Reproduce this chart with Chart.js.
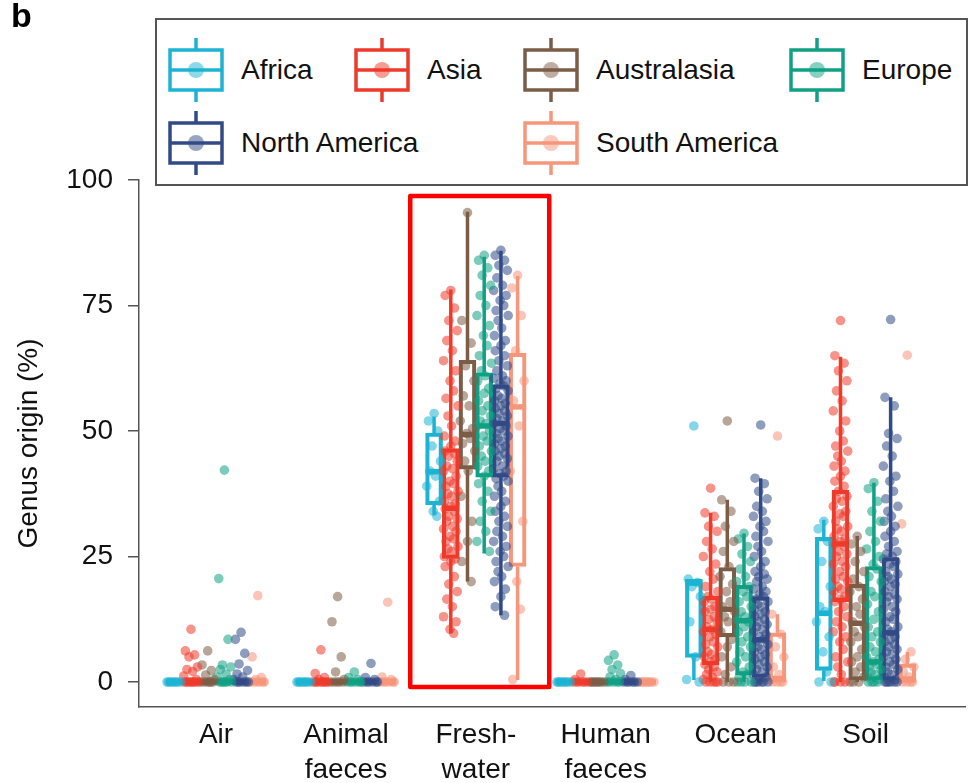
<!DOCTYPE html>
<html>
<head>
<meta charset="utf-8">
<script src="https://cdn.jsdelivr.net/npm/chart.js@4.4.1/dist/chart.umd.min.js"></script>
<style>
html,body{margin:0;padding:0;background:#fff;}
#wrap{position:relative;width:970px;height:783px;overflow:hidden;font-family:'Liberation Sans',Arial,sans-serif;}
#chart{position:absolute;left:0;top:0;}
#tag{position:absolute;left:11px;top:-4px;font-weight:bold;font-size:34px;color:#000;}
#legend{position:absolute;left:155px;top:18px;width:813px;height:168px;border:2px solid #555;box-sizing:border-box;background:#fff;}
.item{position:absolute;display:flex;align-items:center;height:64px;font-size:28px;color:#111;white-space:nowrap;}
.item span{margin-left:17px;}
</style>
</head>
<body>
<div id="wrap">
  <canvas id="chart" width="970" height="783"></canvas>
  <div id="tag">b</div>
  <div id="legend"></div>
</div>
<script>
// ---------- data ----------
const categories = [['Air'], ['Animal', 'faeces'], ['Fresh-', 'water'], ['Human', 'faeces'], ['Ocean'], ['Soil']];
const continents = ['Africa', 'Asia', 'Australasia', 'Europe', 'North America', 'South America'];
const colours = ['#1DB3D3', '#EE3A2B', '#7C5C46', '#10A084', '#324A86', '#F6967A'];
const yTicks = [0, 25, 50, 75, 100];

// box statistics per category: [lower whisker, Q1, median, Q3, upper whisker]
const boxAfrica      = [[0,0,0,0,0],[0,0,0,0,0],[33.3,35.3,41.9,49.6,52.9],[0,0,0,0,0],[0.4,4.9,19.7,20.5,20.5],[0.2,2.3,13.7,28.8,32.3]];
const boxAsia        = [[0,0,0,0,0],[0,0,0,0,0],[9.7,24.6,34.6,46.5,78.2],[0,0,0,0,0],[0,3.4,10.5,17.1,33.7],[0,16.0,27.5,38.2,64.8]];
const boxAustralasia = [[0,0,0,0,0],[0,0,0,0,0],[20.0,42.4,49.3,64.1,93.7],[0,0,0,0,0],[0,9.0,14.5,22.8,36.3],[0,0.4,11.7,19.5,29.1]];
const boxEurope      = [[0,0,0,0,0],[0,0,0,0,0],[25.6,40.8,51.0,61.6,84.7],[0,0,0,0,0],[0,1.4,12.2,19.3,29.6],[0,0.4,4.0,23.0,39.7]];
const boxNorthAm     = [[0,0,0,0,0],[0,0,0,0,0],[13.3,40.8,51.5,59.2,85.9],[0,0,0,0,0],[0,0.9,8.4,17.0,40.6],[0,0.4,9.8,24.8,56.7]];
const boxSouthAm     = [[0,0,0,0,0],[0,0,0,0,0],[0.4,23.0,54.8,65.5,80.9],[0,0,0,0,0],[0,0.5,0.5,9.8,13.5],[0,0.4,0.4,3.6,6.0]];

// individual samples per category (Air, Animal faeces, Freshwater, Human faeces, Ocean, Soil)
const ptsAfrica = [
  [0,0,0,0,0,0,0,0],
  [0,0,0,0,0,0,0,0],
  [53.5,52,50,47,44,42,41,39,36,34,33],
  [0,0,0,0,0,0,0,0],
  [51,20.5,19.8,19,17,12,5,0.5,0],
  [32,30.5,28,24,19,15,14,12,9,6,2,0,0]
];
const ptsAsia = [
  [10.5,6.2,5.4,5,3,2.5,2.1,1.2,0.5,0,0,0,0,0,0,0,0],
  [6.4,1.7,0.9,0.5,0,0,0,0,0,0,0,0],
  [78,77,74.5,72,70,68,66,64,62,60,58,56.5,55,53,51,49,48,47,46,45.5,45,44,43,42.5,42,41,40,39.5,39,38,37.5,37,36,35.5,35,34.5,34,33,32.5,32,31,30.5,30,29,28.5,28,27,26.5,26,25,24.5,24,23,21,19.5,18,16.5,15,13,12,10.5,9.7],
  [1.6,0.5,0,0,0,0,0,0],
  [38.6,33.7,33,31,30,28,26.5,25,23.5,22,20.5,19,18,17,16.5,16,15,14.5,14,13,12.5,12,11,10.5,10,9.5,9,8,7.5,7,6,5.5,5,4.5,4,3.5,3,2.5,2,1.5,1,0.5,0,0,0,0,0],
  [72,65,63.5,62,60,58,56,54,52,50,48,47,46,45,44,43,42,41,40,39,38,37,36.5,36,35,34,33.5,33,32,31,30.5,30,29,28.5,28,27.5,27,26,25.5,25,24,23.5,23,22,21,20.5,20,19,18.5,18,17,16.5,16,15,14,13,12,11,10,9,8,6.5,5,4,3,1.5,0,0,0,0]
];
const ptsAustralasia = [
  [6.2,3.4,2.3,1.4,0.5,0,0,0,0,0,0],
  [17,12,5,2,0.5,0,0,0,0,0],
  [93.5,72,67.5,63,60,57,55,52,50.5,49.5,48.5,47.5,46,44,42,37,32,28,24,20],
  [0,0,0,0,0,0,0,0],
  [52,36.3,34,31,28,26,23,21,19.5,18,16,15,14,13,12,10,8.5,7,5,3,1.5,0,0,0],
  [29,27.5,26,24,22,20.5,19,18,16.5,15,13.5,12,11,10,9,8,6.5,5,4,3,2,1,0,0,0]
];
const ptsEurope = [
  [42.2,20.6,8.5,3.4,3,2.5,1.6,1,0.5,0,0,0,0,0,0],
  [2,0.9,0.5,0,0,0,0,0,0],
  [85,84,82.5,81,79,77,75,73,71,69,67,65,63.5,62,61,60,58.5,57.5,56,55,54,53,52,51.5,51,50,49,48,47,46,45,44,43,42,41,39.5,38,36,34,32,30,28,26],
  [5.4,4.3,3.4,2.5,1.7,1,0.5,0,0,0,0,0],
  [29.6,28.5,27,25.5,24,22.5,21,20,19,18,17,16,15,14,13,12.5,12,11,10,9,8,7,6,5,4,3,2,1.5,1,0,0,0,0],
  [39.7,38.5,36,34,32,30,28,26.5,25,23.5,22.5,21,20,18,17,15.5,14,12.5,11,10,9,8,7,6,5,4.5,4,3.5,3,2.5,2,1.5,1,0.5,0,0,0,0]
];
const ptsNorthAm = [
  [9.9,8.5,5.7,3.6,2.3,1.6,1,0.5,0,0,0,0,0,0],
  [3.7,0.9,0.5,0,0,0,0,0,0],
  [86,85,84,83,82,80.5,79,78,77,76,75,74,73,72,70.5,69,68,67,66,65,64,63,62,61,60.5,60,59.5,59,58.5,58,57,56.5,56,55.5,55,54.5,54,53.5,53,52.5,52,51.5,51,50.5,50,49.5,49,48.5,48,47.5,47,46.5,46,45.5,45,44.5,44,43,42.5,42,41.5,41,40.5,40,39,38,37,36,35,34,33,32,31,30,29,28,27,26,25,24,23,22,21,20,18.5,17,15,13.3],
  [1.3,0.5,0,0,0,0,0,0],
  [51.2,40.6,39.5,38,36.5,35,34,33,32,31,30,29,28,27,26,25,24,23,22,21.5,21,20.5,20,19,18.5,18,17.5,17,16.5,16,15.5,15,14.5,14,13.5,13,12.5,12,11.5,11,10.5,10,9.5,9,8.5,8,7.5,7,6.5,6,5.5,5,4.5,4,3.5,3,2.5,2,1.5,1,0.5,0,0,0,0,0,0],
  [72.2,56.7,55,49.5,48.5,47,45,43,41,40,38,36.5,35,34,33,32,31,30,29,28,27,26,25.5,25,24.5,24,23.5,23,22,21.5,21,20.5,20,19.5,19,18,17.5,17,16.5,16,15,14.5,14,13,12.5,12,11,10.5,10,9.5,9,8.5,8,7.5,7,6.5,6,5.5,5,4.5,4,3.5,3,2.5,2,1.5,1,0.5,0,0,0,0,0,0]
];
const ptsSouthAm = [
  [17.2,5,0.9,0.5,0,0,0,0,0,0],
  [15.9,1,0.5,0,0,0,0,0,0],
  [81,78.5,73,66,60,56,51,42,32,20,14.5,0.5],
  [0,0,0,0,0,0,0,0],
  [49,13.5,9.5,7,5,3,1.5,0.5,0,0,0,0],
  [65.1,31.5,6,4.5,3,2,1,0.5,0,0,0,0]
];

// ---------- build ----------
const boxSets = [boxAfrica, boxAsia, boxAustralasia, boxEurope, boxNorthAm, boxSouthAm];
const ptSets  = [ptsAfrica, ptsAsia, ptsAustralasia, ptsEurope, ptsNorthAm, ptsSouthAm];
const SLOT = 0.1286;          // spacing between boxes within a category (category units)
const JW = 0.062;             // jitter half-width (category units)
const JIT = [0,-0.7,0.45,-0.25,0.8,-0.5,0.2,-0.9,0.65,-0.1,0.35,-0.6,0.9,-0.35,0.1,-0.8,0.55];

function rgba(hex, a){
  const n = parseInt(hex.slice(1),16);
  return `rgba(${(n>>16)&255},${(n>>8)&255},${n&255},${a})`;
}

const datasets = [];
continents.forEach((name,k)=>{
  const off = (k-2.5)*SLOT;
  datasets.push({
    type:'bar', label:name+' box',
    data: boxSets[k].map((s,i)=>({x:i+off, y:[s[1], s[3]]})),
    stats: boxSets[k],
    backgroundColor:'rgba(255,255,255,0)', borderColor:colours[k], borderWidth:3.5,
    borderSkipped:false, barThickness:17, grouped:false, order:2
  });
});
continents.forEach((name,k)=>{
  const off = (k-2.5)*SLOT;
  const pts = [];
  ptSets[k].forEach((vals,i)=>vals.forEach((v,j)=>pts.push({x:i+off+JIT[j%JIT.length]*JW, y:v})));
  datasets.push({
    type:'scatter', label:name, data:pts,
    backgroundColor:rgba(colours[k],0.55), borderWidth:0, pointRadius:4.8, order:1
  });
});

// whiskers + medians (drawn after boxes, before points) and highlight frame
let whiskersDone = false;
const boxPlotPlugin = {
  id:'boxWhiskers',
  beforeDatasetsDraw(){ whiskersDone = false; },
  beforeDatasetDraw(chart, args){
    if (whiskersDone || args.meta.type !== 'scatter') return;
    whiskersDone = true;
    const {ctx, scales:{y}} = chart;
    ctx.save();
    chart.data.datasets.forEach((ds,di)=>{
      if (ds.type !== 'bar') return;
      const meta = chart.getDatasetMeta(di);
      ds.stats.forEach((s,i)=>{
        const bar = meta.data[i];
        const cx = bar.x, half = bar.width/2;
        ctx.strokeStyle = ds.borderColor;
        ctx.lineCap = 'butt';
        ctx.lineWidth = 3.5;
        ctx.beginPath();
        ctx.moveTo(cx, y.getPixelForValue(s[0])); ctx.lineTo(cx, y.getPixelForValue(s[1]));
        ctx.moveTo(cx, y.getPixelForValue(s[3])); ctx.lineTo(cx, y.getPixelForValue(s[4]));
        ctx.stroke();
        const my = y.getPixelForValue(s[2]);
        ctx.lineWidth = 5.5;
        ctx.beginPath(); ctx.moveTo(cx-half, my); ctx.lineTo(cx+half, my); ctx.stroke();
      });
    });
    ctx.restore();
  },
  afterDraw(chart, args, opts){
    const {ctx, scales:{x,y}} = chart;
    const h = opts.highlight;
    const x1 = x.getPixelForValue(h.from), x2 = x.getPixelForValue(h.to);
    const y1 = y.getPixelForValue(h.top),  y2 = y.getPixelForValue(h.bottom);
    ctx.save();
    ctx.strokeStyle = '#FF0000'; ctx.lineWidth = 4.5; ctx.lineJoin = 'round';
    ctx.strokeRect(x1, y1, x2-x1, y2-y1);
    ctx.restore();
  }
};

Chart.defaults.font.family = "'Liberation Sans', Arial, sans-serif";
Chart.defaults.color = '#111';

new Chart(document.getElementById('chart'), {
  type:'scatter',
  data:{datasets},
  plugins:[boxPlotPlugin],
  options:{
    responsive:false, animation:false, devicePixelRatio:1, events:[],
    layout:{padding:{top:180, left:0, right:0, bottom:0}},
    plugins:{
      legend:{display:false}, tooltip:{enabled:false},
      boxWhiskers:{highlight:{from:1.495, to:2.565, top:96.8, bottom:-1.0}}
    },
    scales:{
      x:{
        type:'linear', min:-0.593, max:5.767, offset:false,
        afterBuildTicks: s => { s.ticks = categories.map((c,i)=>({value:i})); },
        ticks:{callback:(v)=>categories[v], autoSkip:false, maxRotation:0, padding:11,
               font:{size:28, lineHeight:1.25}, color:'#111'},
        grid:{display:true, drawOnChartArea:false, drawTicks:false, offset:false},
        border:{display:true, color:'#555', width:1.5},
        afterFit: s => { s.height = 76; }
      },
      y:{
        type:'linear', min:-4.98, max:100,
        afterBuildTicks: s => { s.ticks = yTicks.map(v=>({value:v})); },
        ticks:{padding:15, font:{size:28}, color:'#111'},
        grid:{display:true, drawOnChartArea:false, drawTicks:true, tickLength:11, color:'#555', lineWidth:1.5},
        border:{display:true, color:'#555', width:1.5},
        title:{display:true, text:'Genus origin (%)', font:{size:28}, color:'#111', padding:{top:12, bottom:0}},
        afterFit: s => { s.width = 139; }
      }
    }
  }
});

// ---------- legend (HTML, real text) ----------
const legendPos = [[11,18],[197,18],[366,18],[632,18],[11,91],[366,91]];
const legend = document.getElementById('legend');
continents.forEach((name,k)=>{
  const c = colours[k];
  const d = document.createElement('div');
  d.className = 'item';
  d.style.left = legendPos[k][0]+'px';
  d.style.top = legendPos[k][1]+'px';
  d.innerHTML =
    `<svg width="56" height="64" viewBox="0 0 56 64">
       <line x1="28" y1="0" x2="28" y2="12" stroke="${c}" stroke-width="3.5"/>
       <line x1="28" y1="52" x2="28" y2="64" stroke="${c}" stroke-width="3.5"/>
       <rect x="2" y="12" width="52" height="40" fill="none" stroke="${c}" stroke-width="3.5"/>
       <line x1="2" y1="32" x2="54" y2="32" stroke="${c}" stroke-width="3.5"/>
       <circle cx="28" cy="32" r="8" fill="${rgba(c,0.5)}"/>
     </svg><span>${name}</span>`;
  legend.appendChild(d);
});
</script>
</body>
</html>
